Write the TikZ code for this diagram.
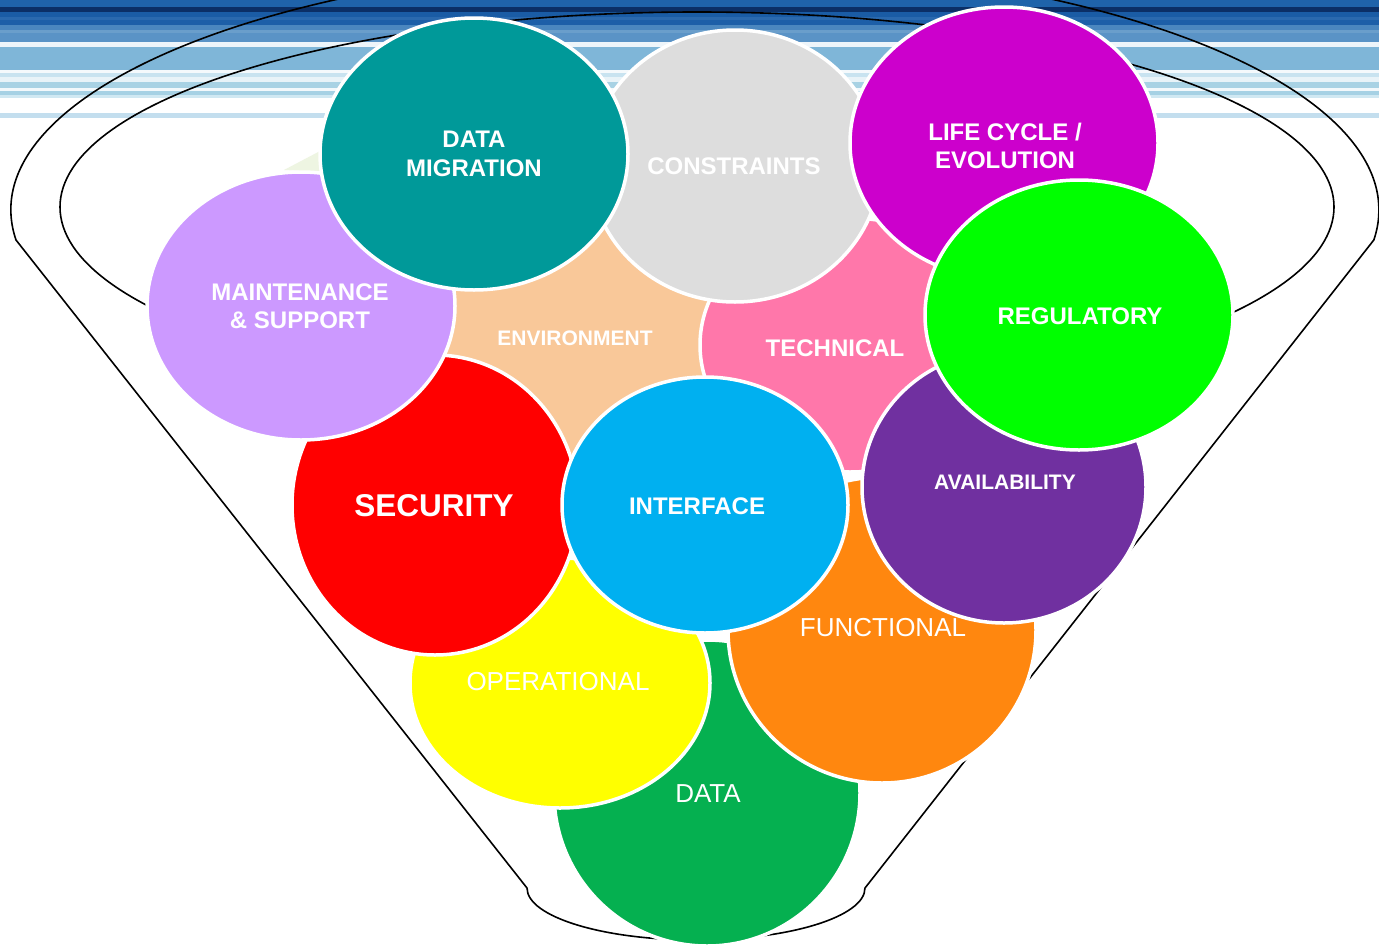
\documentclass[tikz,border=0pt]{standalone}
\usepackage{fontspec}
\setmainfont{Liberation Sans}
\definecolor{dmteal}{HTML}{009999}
\definecolor{consgray}{HTML}{DDDDDD}
\definecolor{lifemag}{HTML}{CC00CC}
\definecolor{mainlilac}{HTML}{CC99FF}
\definecolor{envpeach}{HTML}{F9C899}
\definecolor{techpink}{HTML}{FF77AA}
\definecolor{reggreen}{HTML}{00FF00}
\definecolor{secred}{HTML}{FF0000}
\definecolor{intblue}{HTML}{00B0F0}
\definecolor{availpurple}{HTML}{7030A0}
\definecolor{funcorange}{HTML}{FF870F}
\definecolor{opyellow}{HTML}{FFFF00}
\definecolor{datagreen}{HTML}{05B050}
\definecolor{sliver}{HTML}{EEF5E2}
\tikzset{
  bubble/.style={draw=white, line width=3.5pt},
  funnel/.style={draw=black, line width=1.6pt, line join=round},
  lbl/.style={text=white, align=center, font=\bfseries\fontsize{24}{28.5}\selectfont},
  plainlbl/.style={text=white, align=center, font=\fontsize{26}{30}\selectfont}
}
\begin{document}
\begin{tikzpicture}[x=1pt,y=-1pt]
\clip (0,0) rectangle (1379,945);
\fill[white] (0,0) rectangle (1379,945);
% blue bands at the top
\foreach \ya/\yb/\hex in {0/7/1F63AA, 7/12/0B2F66, 12/17/1A5CA5, 17/20/2A69AE, 20/25/1D5FA8,
    25/30/4B87BF, 30/33/6A9ECB, 33/42/5A93C6, 42/47/EEF5FA, 47/70/7FB6D8, 70/73/F4F9FC,
    73/77/C8E3F0, 77/82/E8F3F8, 82/88/A8D2E4, 88/91/F2F8FB, 91/95/A6D1E4, 95/98/D0E8F2,
    113/118/C3DEEE}{
  \definecolor{band}{HTML}{\hex}
  \fill[band] (0,\ya) rectangle (1379,\yb);
}
% funnel
\draw[funnel] (16,240) arc[start angle=173, end angle=367, x radius=684, y radius=247]
  -- (865,888) arc[start angle=0, end angle=180, x radius=169, y radius=52] -- cycle;
\draw[funnel] (697,207) ellipse [x radius=637, y radius=195];
% bubbles, back to front
\fill[sliver] (284,170) -- (322,150) -- (324,172) -- cycle;
\draw[bubble, fill=datagreen] (707,793) ellipse [x radius=153, y radius=153];
\draw[bubble, fill=funcorange] (882,630) ellipse [x radius=154, y radius=153];
\draw[bubble, fill=opyellow] (560,683) ellipse [x radius=150, y radius=125];
\draw[bubble, fill=envpeach] (575,338) ellipse [x radius=145, y radius=135];
\draw[bubble, fill=techpink] (850,345) ellipse [x radius=150, y radius=127];
\draw[bubble, fill=consgray] (735,166) ellipse [x radius=145, y radius=136];
\draw[bubble, fill=secred] (435,505) ellipse [x radius=143, y radius=150];
\draw[bubble, fill=mainlilac] (301,306) ellipse [x radius=154, y radius=134];
\draw[bubble, fill=dmteal] (474,154) ellipse [x radius=154, y radius=136];
\draw[bubble, fill=intblue] (705,505) ellipse [x radius=143, y radius=128];
\draw[bubble, fill=lifemag] (1004,143) ellipse [x radius=154, y radius=136];
\draw[bubble, fill=availpurple] (1004,487) ellipse [x radius=142, y radius=136];
\draw[bubble, fill=reggreen] (1079,315) ellipse [x radius=154, y radius=135];
% labels
\node[lbl] (migration) at (474,154) {DATA\\MIGRATION};
\node[lbl] (constraints) at (734,166) {CONSTRAINTS};
\node[lbl] (lifecycle) at (1005,146) {LIFE CYCLE /\\EVOLUTION};
\node[lbl] (maintenance) at (300,306) {MAINTENANCE\\\&~SUPPORT};
\node[lbl, font=\bfseries\fontsize{21}{25}\selectfont] (environment) at (575,338) {ENVIRONMENT};
\node[lbl] (technical) at (835,348) {TECHNICAL};
\node[lbl] (regulatory) at (1080,316) {REGULATORY};
\node[lbl, font=\bfseries\fontsize{31.5}{36}\selectfont] (security) at (434,506) {SECURITY};
\node[lbl] (interface) at (697,506) {INTERFACE};
\node[lbl, font=\bfseries\fontsize{21}{25}\selectfont] (availability) at (1005,482) {AVAILABILITY};
\node[plainlbl] (functional) at (883,628) {FUNCTIONAL};
\node[plainlbl] (operational) at (558,682) {OPERATIONAL};
\node[plainlbl] (data) at (708,794) {DATA};
\end{tikzpicture}
\end{document}
